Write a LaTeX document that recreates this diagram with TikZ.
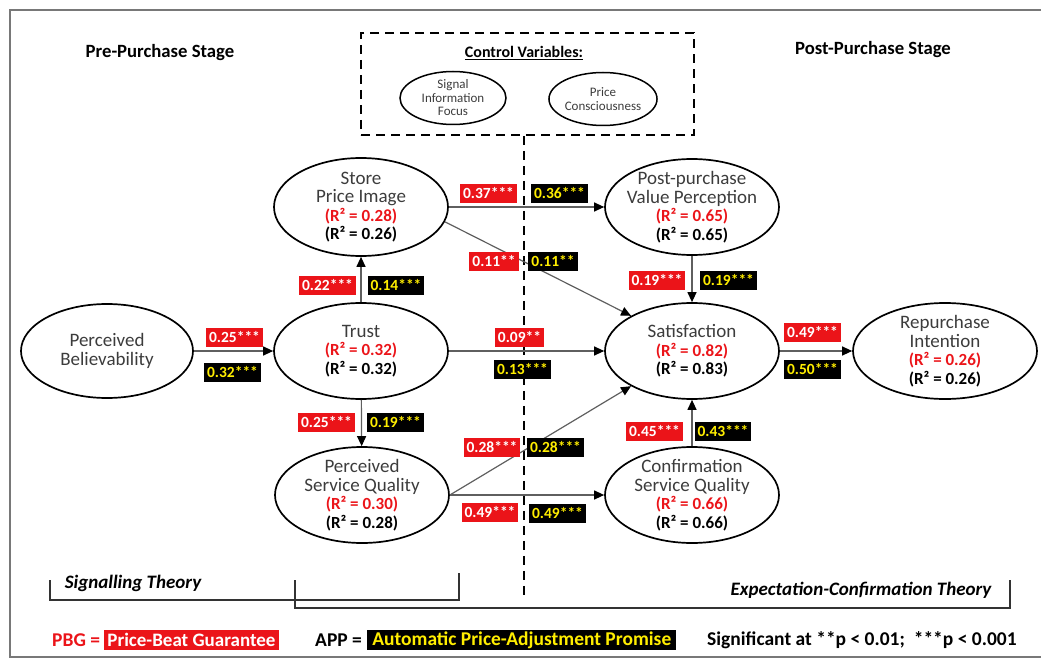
\documentclass[tikz,border=0pt]{standalone}
\usepackage{fontspec}
\setmainfont{Carlito}
\usetikzlibrary{shapes.geometric,arrows.meta,positioning}

\definecolor{pbgred}{RGB}{235,20,25}
\definecolor{appyellow}{RGB}{255,238,0}
\definecolor{textgray}{RGB}{60,60,60}
\definecolor{linegray}{RGB}{95,95,95}
\definecolor{framegray}{RGB}{120,120,120}

\newcommand{\rsqfont}{\fontsize{17}{17}\selectfont\bfseries}

\begin{document}
\begin{tikzpicture}[x=1pt, y=-1pt,
	construct/.style={draw, ellipse, line width=1.7pt, inner sep=0pt, minimum width=174pt, minimum height=96pt},
	ctrlvar/.style={draw, ellipse, line width=1.5pt, inner sep=0pt, minimum width=106pt, minimum height=53pt, align=center, text=textgray, font=\fontsize{13}{13.5}\selectfont},
	inside/.style={align=center, text=textgray, font=\fontsize{19}{18.5}\selectfont},
	link/.style={draw=linegray, line width=1.2pt, -{Triangle[length=10pt,width=9pt,color=black]}},
	pbg/.style={fill=pbgred, text=white, font=\fontsize{15.5}{16}\selectfont\bfseries, inner xsep=3pt, inner ysep=0pt, minimum height=19pt},
	app/.style={pbg, fill=black, text=appyellow},
	heading/.style={font=\fontsize{18.7}{20}\selectfont\bfseries},
	theory/.style={font=\fontsize{19}{20}\selectfont\bfseries\itshape},
	legend/.style={font=\fontsize{19.5}{20}\selectfont\bfseries, inner sep=0pt},
	dashline/.style={line width=1.8pt, dash pattern=on 9pt off 6pt},
	bracket/.style={draw=black!80, line width=1.5pt}
	]
	
	\useasboundingbox (0,0) rectangle (1041,666);
	\draw[framegray, line width=1.5pt] (1041,10) -- (10,10) -- (10,657) -- (1041,657);
	
	\node[heading] (pre) at (160,53) {Pre-Purchase Stage};
	\node[heading] (post) at (873,50) {Post-Purchase Stage};
	
	\node[draw, dashline, inner sep=0pt, minimum width=333pt, minimum height=102pt] (ctrl) at (527.5,84) {};
	\node[font=\fontsize{16}{18}\selectfont\bfseries] (ctrltitle) at (524,53) {\underline{Control Variables:}};
	\node[ctrlvar] (c1) at (453,98) {Signal\\Information\\Focus};
	\node[ctrlvar] (c2) at (603,99) {Price\\Consciousness};
	
	\coordinate (divend) at (524,597);
	\draw[dashline] (ctrl.south -| divend) -- (divend);
	
	\node[construct, minimum width=172pt, minimum height=94pt, label={[inside, name=t1]center:{Perceived\\Believability}}] (1) at (107,351) {};
	\node[construct, label={[inside, name=t2]center:{Trust\\{\rsqfont\color{pbgred}(R² = 0.32)}\\{\rsqfont\color{black}(R² = 0.32)}}}] (2) at (361,351) {};
	\node[construct, minimum height=98pt, label={[inside, name=t3]center:{Store\\Price Image\\{\rsqfont\color{pbgred}(R² = 0.28)}\\{\rsqfont\color{black}(R² = 0.26)}}}] (3) at (361,207) {};
	\node[construct, label={[inside, name=t4]center:{Perceived\\Service Quality\\{\rsqfont\color{pbgred}(R² = 0.30)}\\{\rsqfont\color{black}(R² = 0.28)}}}] (4) at (362,495) {};
	\node[construct, label={[inside, name=t5]center:{Post-purchase\\Value Perception\\{\rsqfont\color{pbgred}(R² = 0.65)}\\{\rsqfont\color{black}(R² = 0.65)}}}] (5) at (692,207) {};
	\node[construct, label={[inside, name=t6]center:{Satisfaction\\{\rsqfont\color{pbgred}(R² = 0.82)}\\{\rsqfont\color{black}(R² = 0.83)}}}] (6) at (692,351) {};
	\node[construct, label={[inside, name=t7]center:{Confirmation\\Service Quality\\{\rsqfont\color{pbgred}(R² = 0.66)}\\{\rsqfont\color{black}(R² = 0.66)}}}] (7) at (692,495) {};
	\node[construct, minimum width=184pt, label={[inside, name=t8]center:{Repurchase\\Intention\\{\rsqfont\color{pbgred}(R² = 0.26)}\\{\rsqfont\color{black}(R² = 0.26)}}}] (8) at (945,351) {};
	
	\path[link] (1) -- (2);
	\path[link] (2) -- (3);
	\path[link] (2) -- (4);
	\path[link] (2) -- (6);
	\path[link] (3) -- (5);
	\path[link] (3.-10) -- (6.150);
	\path[link] (4.east) -- (6.210);
	\path[link] (4) -- (7);
	\path[link] (5) -- (6);
	\path[link] (7) -- (6);
	\path[link] (6) -- (8);
	
	\node[pbg] (pbg1) at (488.5,193) {0.37***};
	\node[app] (app1) at (559.5,193) {0.36***};
	\node[pbg] (pbg2) at (494,261.5) {0.11**};
	\node[app] (app2) at (553,261.5) {0.11**};
	\node[pbg] (pbg3) at (327.5,285) {0.22***};
	\node[app] (app3) at (396,285) {0.14***};
	\node[pbg] (pbg4) at (234.5,337.5) {0.25***};
	\node[app] (app4) at (232.5,372.5) {0.32***};
	\node[pbg] (pbg5) at (519.5,337) {0.09**};
	\node[app] (app5) at (522.5,369) {0.13***};
	\node[pbg] (pbg6) at (657,280) {0.19***};
	\node[app] (app6) at (728.5,280) {0.19***};
	\node[pbg] (pbg7) at (812.5,332.5) {0.49***};
	\node[app] (app7) at (812.5,369) {0.50***};
	\node[pbg] (pbg8) at (326.5,422) {0.25***};
	\node[app] (app8) at (395.5,422) {0.19***};
	\node[pbg] (pbg9) at (492,447.5) {0.28***};
	\node[app] (app9) at (555.5,447) {0.28***};
	\node[pbg] (pbg10) at (654.5,431) {0.45***};
	\node[app] (app10) at (723,431) {0.43***};
	\node[pbg] (pbg11) at (490,512.5) {0.49***};
	\node[app] (app11) at (557.5,513) {0.49***};
	
	\draw[bracket] (50,580) -- (50,600) -- (459,600) -- (459,573);
	\draw[bracket] (295,580) -- (295,608) -- (1010,608) -- (1010,580);
	\node[theory] (signalling) at (133,583) {Signalling Theory};
	\node[theory] (expconf) at (861,590) {Expectation-Confirmation Theory};
	
	\node[legend, text=pbgred, anchor=west] (pbgkey) at (52,640) {PBG =};
	\node[pbg, font=\fontsize{19}{20}\selectfont\bfseries, minimum height=20pt, right=4pt of pbgkey] (pbgbox) {Price-Beat Guarantee};
	\node[legend, anchor=west] (appkey) at (315,640) {APP =};
	\node[app, font=\fontsize{19.5}{20}\selectfont\bfseries, minimum height=20pt, inner xsep=5pt, right=5pt of appkey] (appbox) {Automatic Price-Adjustment Promise};
	\node[legend, anchor=west] (sig) at (707,640) {Significant at **p < 0.01;~ ***p < 0.001};
	
\end{tikzpicture}
\end{document}
